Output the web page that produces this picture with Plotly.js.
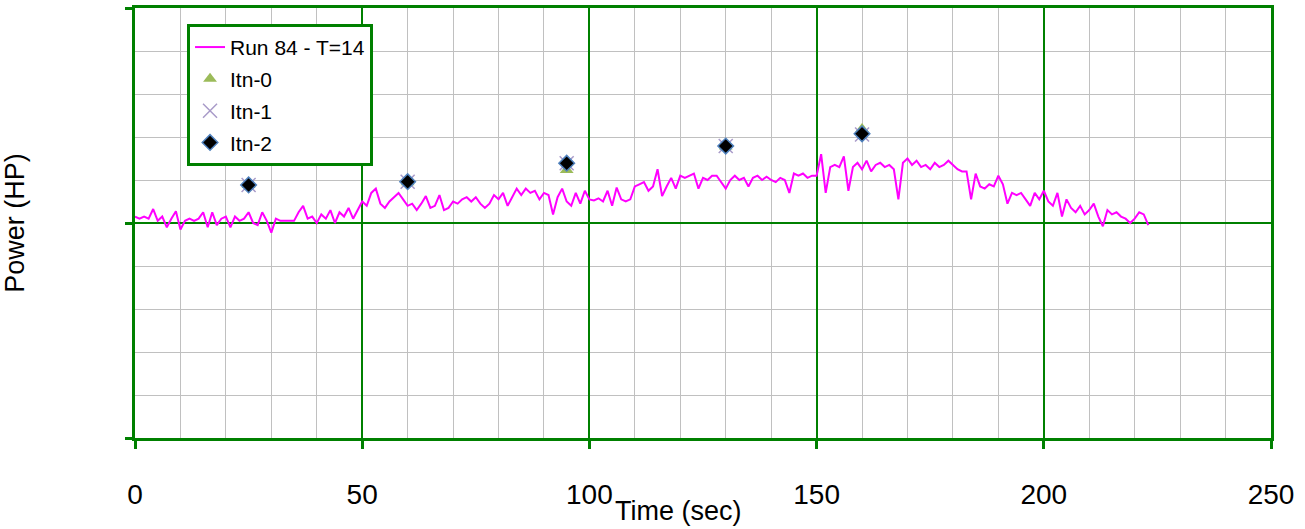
<!DOCTYPE html>
<html>
<head>
<meta charset="utf-8">
<script src="https://cdn.plot.ly/plotly-3.0.1.min.js"></script>
<style>html,body{margin:0;padding:0;background:#fff;}#chart{width:1305px;height:529px;}</style>
</head>
<body>
<div id="chart"></div>
<script>
// Run 84 - T=14 (time in sec, power in HP units relative)
const runTime = [0,1,2,3,4,5,6,7,8,9,10,11,12,13,14,15,16,17,18,19,20,21,22,23,24,25,26,27,28,29,30,31,32,33,34,35,36,37,38,39,40,41,42,43,44,45,46,47,48,49,50,51,52,53,54,55,56,57,58,59,60,61,62,63,64,65,66,67,68,69,70,71,72,73,74,75,76,77,78,79,80,81,82,83,84,85,86,87,88,89,90,91,92,93,94,95,96,97,98,99,100,101,102,103,104,105,106,107,108,109,110,111,112,113,114,115,116,117,118,119,120,121,122,123,124,125,126,127,128,129,130,131,132,133,134,135,136,137,138,139,140,141,142,143,144,145,146,147,148,149,150,151,152,153,154,155,156,157,158,159,160,161,162,163,164,165,166,167,168,169,170,171,172,173,174,175,176,177,178,179,180,181,182,183,184,185,186,187,188,189,190,191,192,193,194,195,196,197,198,199,200,201,202,203,204,205,206,207,208,209,210,211,212,213,214,215,216,217,218,219,220,221,222,223];
const runPower = [3,2,3,2,6.5,1,3,-2,2,5.5,-3,1,2,1,2,5,-2,5,-1,2,3,-2,3,1,2,5,0,-1,5,1,-4.5,2,1,1,1,1,5,8,2,3,0,4,2,6,0,5,3,7,2,6,10,8,14,16,9,7,10,12,14,11,8,9,6,9,12.5,7,8,13,6,7,10,9,11,12,10,12,9,7,9,13,11,14,8,12,16,13,16,14,15,11,14,13,4,12,16,10,8,14,9,15,11,10.5,11.5,10,15,8,16.5,11,10,11,17,18,19,15,17,25,12.5,17,21,16,22,21,22,23,16,21,20,22,22,19,16,20,22,20,21,17,21,22,20,21.5,20,19,21,20,14,23,22,23,21,22,22,32,14,26,27,26,31,15,26,28,25,29,24,27,28,26,27,25,11,28,30,27,29,26,27,25,28,26,27,29,27,25,24,24,11,23,17,16,18,17,22,18,9,14,13,14,11,8,14,11,15,10,8,14,3,11,7,5,8,4,6,9,3,-1.5,6,4,5,3,2,0,2,5,4,-1];

// Iteration points
const itnTime = [25,60,95,130,160];
const itn0 = [17.7,19.0,24.7,35.6,43.7];
const itn1 = [17.7,19.2,27.8,35.8,41.2];
const itn2 = [17.7,19.2,27.8,35.8,41.5];

const xTickVals = [0,50,100,150,200,250];
const xTickText = ['0','50','100','150','200','250'];

const GREEN = '#008000';
const FONT = 'Liberation Sans, Arial, sans-serif';

const traces = [
  {x: runTime, y: runPower, type: 'scatter', mode: 'lines', name: 'Run 84 - T=14',
   line: {color: '#ff00ff', width: 2}, legendgroup: 'a'},
  {x: itnTime, y: itn0, type: 'scatter', mode: 'markers', name: 'Itn-0',
   marker: {symbol: 'triangle-up', size: 12, color: '#9bbb59'}, legendgroup: 'b'},
  {x: itnTime, y: itn1, type: 'scatter', mode: 'markers', name: 'Itn-1',
   marker: {symbol: 'x-thin', size: 14, color: '#a99bc9', line: {color: '#a99bc9', width: 1.5}}, legendgroup: 'c'},
  {x: itnTime, y: itn2, type: 'scatter', mode: 'markers', name: 'Itn-2',
   marker: {symbol: 'diamond', size: 12, color: '#000000', line: {color: '#4f81bd', width: 1.5}}, legendgroup: 'd'}
];

const layout = {
  width: 1305, height: 529,
  margin: {l: 135, r: 34, t: 8, b: 91},
  paper_bgcolor: '#ffffff', plot_bgcolor: '#ffffff',
  font: {family: FONT, color: '#000000'},
  showlegend: true,
  legend: {
    x: 0.0458, y: 0.963, xanchor: 'left', yanchor: 'top',
    bgcolor: '#ffffff', bordercolor: GREEN, borderwidth: 3,
    font: {family: FONT, size: 21, color: '#000000'},
    traceorder: 'grouped', tracegroupgap: 1.5
  },
  xaxis: {
    range: [0, 250], tickvals: xTickVals, ticktext: xTickText,
    showline: true, mirror: true, linecolor: GREEN, linewidth: 3,
    ticks: 'outside', ticklen: 8, tickwidth: 3, tickcolor: GREEN,
    ticklabelstandoff: 21,
    showgrid: true, gridcolor: GREEN, gridwidth: 2,
    minor: {dtick: 10, showgrid: true, gridcolor: '#c0c0c0', gridwidth: 1, ticks: ''},
    zeroline: false,
    tickfont: {family: FONT, size: 28, color: '#000000'}
  },
  yaxis: {
    range: [-100, 100], tickvals: [-100, 0, 100], showticklabels: false,
    showline: true, mirror: true, linecolor: GREEN, linewidth: 3,
    ticks: 'outside', ticklen: 7, tickwidth: 3, tickcolor: GREEN,
    showgrid: true, gridcolor: GREEN, gridwidth: 2,
    minor: {dtick: 20, showgrid: true, gridcolor: '#c0c0c0', gridwidth: 1, ticks: ''},
    zeroline: false,
    title: {text: 'Power (HP)', font: {family: FONT, size: 27, color: '#000000'}, standoff: 95}
  },
  annotations: [
    {text: 'Time (sec)', xref: 'paper', yref: 'paper', x: 0.4785, y: -0.17,
     xanchor: 'center', yanchor: 'middle', showarrow: false,
     font: {family: FONT, size: 27, color: '#000000'}}
  ]
};

Plotly.newPlot('chart', traces, layout, {displayModeBar: false, staticPlot: true});
</script>
</body>
</html>
